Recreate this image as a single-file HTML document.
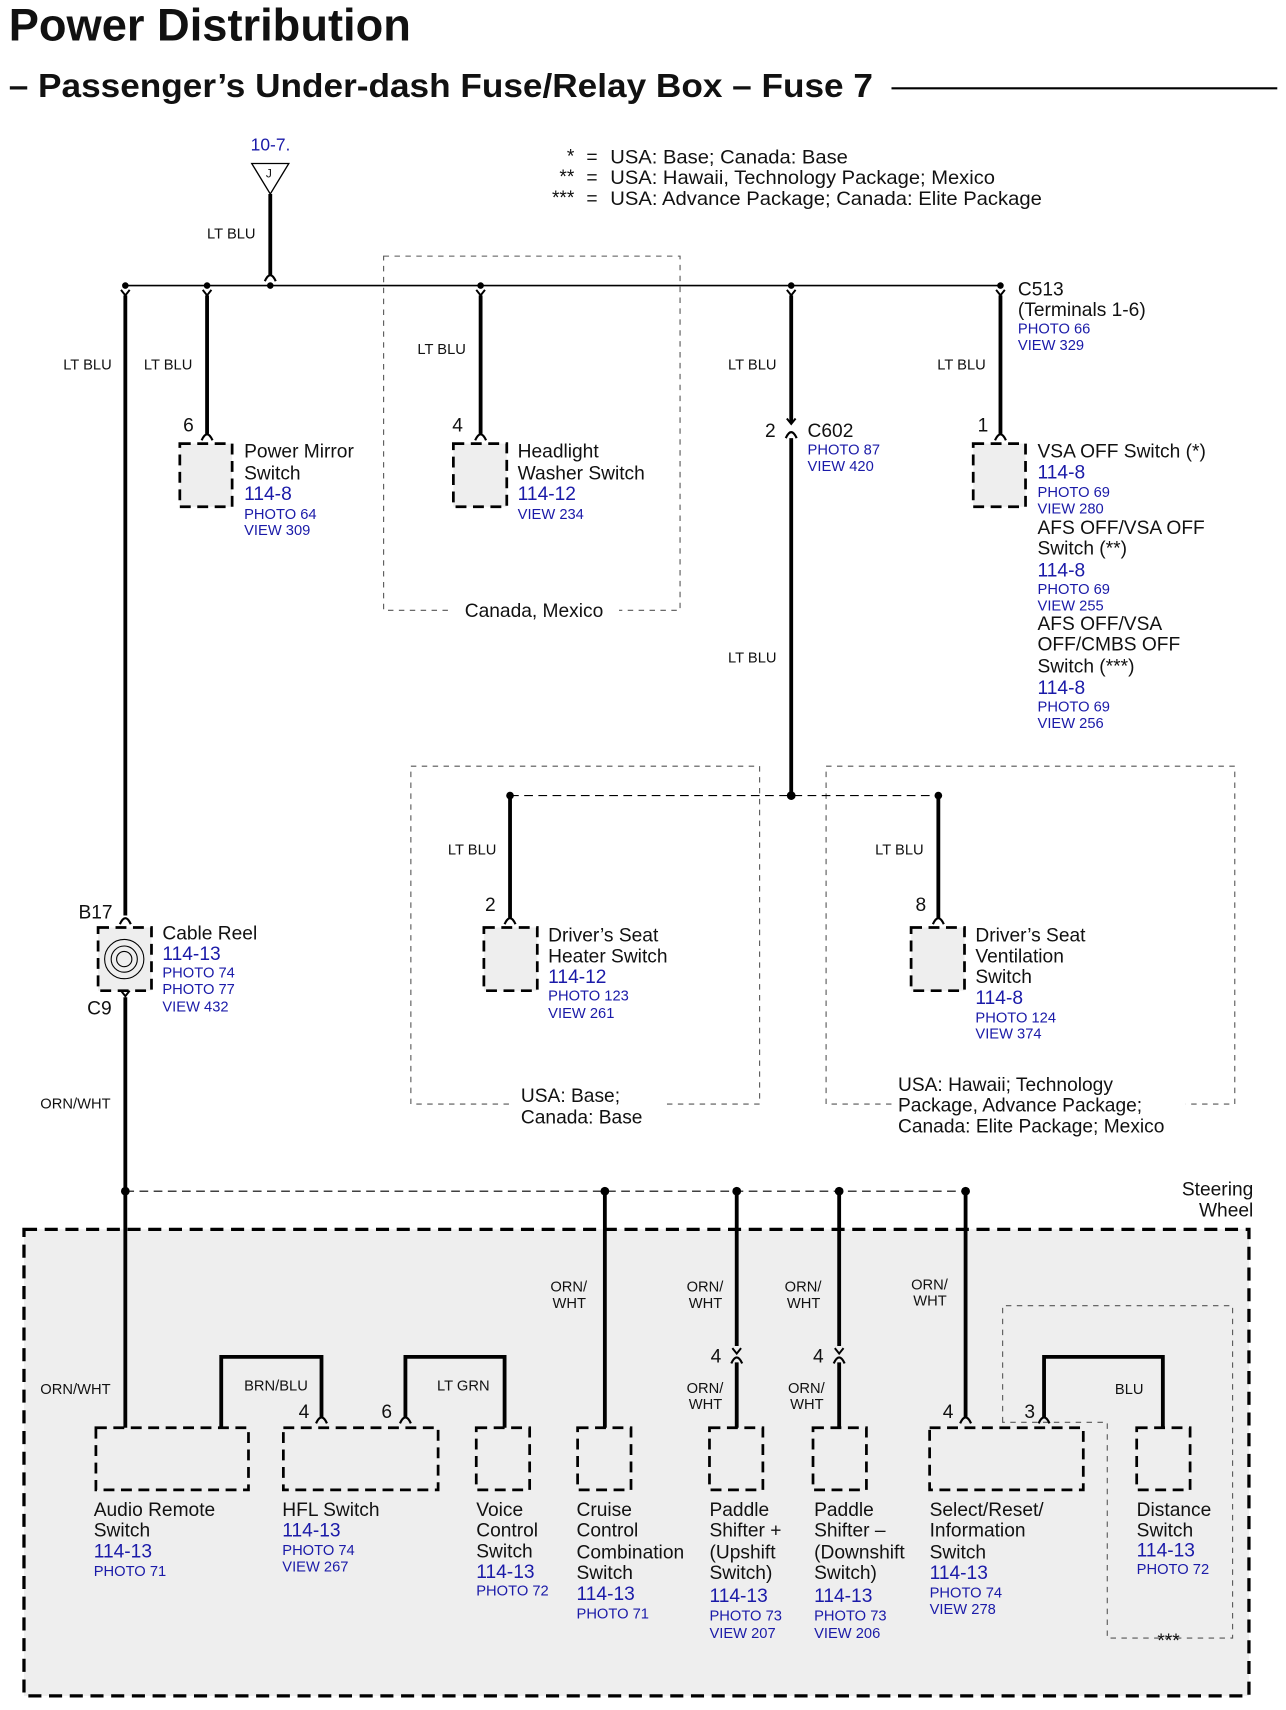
<!DOCTYPE html>
<html><head><meta charset="utf-8"><style>
html,body{margin:0;padding:0;background:#fff}
svg{display:block}
text{font-family:"Liberation Sans",sans-serif;fill:#111}
.b{fill:#1a1aa8}
.s{font-size:13.5px}
.m{font-size:17.6px}
.w{font-size:13.5px}
</style></head><body>
<svg width="1286" height="1710" viewBox="0 0 1180 1569" preserveAspectRatio="none" xmlns="http://www.w3.org/2000/svg">
<defs>
<g id="y"><path d="M-4,4 L0,9 L4,4" fill="none" stroke="#000" stroke-width="1.8"/></g>
<g id="a"><path d="M-5,6 Q0,-5 5,6" fill="none" stroke="#000" stroke-width="2"/></g>
</defs>
<text x="8" y="37" style="font-size:42px;font-weight:bold" textLength="369" lengthAdjust="spacingAndGlyphs">Power Distribution</text>
<text x="8" y="89" style="font-size:31px;font-weight:bold" textLength="793" lengthAdjust="spacingAndGlyphs">– Passenger’s Under-dash Fuse/Relay Box – Fuse 7</text>
<line x1="818" y1="81" x2="1172" y2="81" stroke="#000" stroke-width="2"/>

<text x="230" y="138" class="b" style="font-size:16px">10-7.</text>
<path d="M231,150 L265,150 L248,178 Z" fill="#fff" stroke="#000" stroke-width="1.2"/>
<text x="244" y="163" style="font-size:11px">J</text>
<line x1="248" y1="178" x2="248" y2="252" stroke="#000" stroke-width="3.5"/>
<use href="#a" x="248" y="252"/>
<text x="190" y="219" class="s">LT BLU</text>

<text x="527" y="149" text-anchor="end" class="m">*</text><text x="538" y="150" class="m">=</text><text x="560" y="150" class="m" textLength="218" lengthAdjust="spacingAndGlyphs">USA: Base; Canada: Base</text>
<text x="527" y="168" text-anchor="end" class="m">**</text><text x="538" y="169" class="m">=</text><text x="560" y="169" class="m" textLength="353" lengthAdjust="spacingAndGlyphs">USA: Hawaii, Technology Package; Mexico</text>
<text x="527" y="187" text-anchor="end" class="m">***</text><text x="538" y="188" class="m">=</text><text x="560" y="188" class="m" textLength="396" lengthAdjust="spacingAndGlyphs">USA: Advance Package; Canada: Elite Package</text>

<line x1="115" y1="262" x2="918" y2="262" stroke="#000" stroke-width="1.5"/>
<g fill="#000">
<circle cx="115" cy="262" r="3"/><circle cx="190" cy="262" r="3"/><circle cx="248" cy="262" r="3"/>
<circle cx="441" cy="262" r="3"/><circle cx="726" cy="262" r="3"/><circle cx="918" cy="262" r="3"/>
</g>
<use href="#y" x="115" y="262"/><use href="#y" x="190" y="262"/><use href="#y" x="441" y="262"/><use href="#y" x="726" y="262"/><use href="#y" x="918" y="262"/>
<g stroke="#000" stroke-width="3.5">
<line x1="115" y1="271" x2="115" y2="840"/>
<line x1="190" y1="271" x2="190" y2="398"/>
<line x1="441" y1="271" x2="441" y2="398"/>
<line x1="726" y1="271" x2="726" y2="388"/>
<line x1="726" y1="402" x2="726" y2="730"/>
<line x1="918" y1="271" x2="918" y2="398"/>
</g>
<use href="#a" x="190" y="398"/><use href="#a" x="441" y="398"/><use href="#a" x="918" y="398"/>
<use href="#y" x="726" y="380"/><use href="#a" x="726" y="396"/>

<rect x="352" y="235" width="272" height="325" fill="none" stroke="#555" stroke-width="1" stroke-dasharray="5,5"/>
<rect x="412" y="548" width="156" height="20" fill="#fff"/>
<text x="490" y="566" text-anchor="middle" class="m">Canada, Mexico</text>

<g fill="#eee" stroke="#000" stroke-width="2.5" stroke-dasharray="10,6">
<rect x="165" y="407" width="48" height="58"/>
<rect x="416" y="407" width="49" height="58"/>
<rect x="893" y="407" width="48" height="58"/>
<rect x="444" y="851" width="49" height="58"/>
<rect x="836" y="851" width="49" height="58"/>
<rect x="90" y="851" width="49" height="58"/>
</g>

<text x="58" y="339" class="s">LT BLU</text>
<text x="132" y="339" class="s">LT BLU</text>
<text x="383" y="325" class="s">LT BLU</text>
<text x="668" y="339" class="s">LT BLU</text>
<text x="860" y="339" class="s">LT BLU</text>
<text x="668" y="608" class="s">LT BLU</text>

<text x="168" y="396" class="m">6</text>
<text x="224" y="420" class="m">Power Mirror</text><text x="224" y="440" class="m">Switch</text>
<text x="224" y="459" class="m b">114-8</text><text x="224" y="476" class="w b">PHOTO 64</text><text x="224" y="491" class="w b">VIEW 309</text>

<text x="415" y="396" class="m">4</text>
<text x="475" y="420" class="m">Headlight</text><text x="475" y="440" class="m">Washer Switch</text>
<text x="475" y="459" class="m b">114-12</text><text x="475" y="476" class="w b">VIEW 234</text>

<text x="702" y="401" class="m">2</text>
<text x="741" y="401" class="m">C602</text><text x="741" y="417" class="w b">PHOTO 87</text><text x="741" y="432" class="w b">VIEW 420</text>

<text x="934" y="271" class="m">C513</text><text x="934" y="290" class="m">(Terminals 1-6)</text>
<text x="934" y="306" class="w b">PHOTO 66</text><text x="934" y="321" class="w b">VIEW 329</text>
<text x="897" y="396" class="m">1</text>
<text x="952" y="420" class="m">VSA OFF Switch (*)</text>
<text x="952" y="439" class="m b">114-8</text><text x="952" y="456" class="w b">PHOTO 69</text><text x="952" y="471" class="w b">VIEW 280</text>
<text x="952" y="490" class="m">AFS OFF/VSA OFF</text><text x="952" y="509" class="m">Switch (**)</text>
<text x="952" y="529" class="m b">114-8</text><text x="952" y="545" class="w b">PHOTO 69</text><text x="952" y="560" class="w b">VIEW 255</text>
<text x="952" y="578" class="m">AFS OFF/VSA</text><text x="952" y="597" class="m">OFF/CMBS OFF</text><text x="952" y="617" class="m">Switch (***)</text>
<text x="952" y="637" class="m b">114-8</text><text x="952" y="653" class="w b">PHOTO 69</text><text x="952" y="668" class="w b">VIEW 256</text>

<rect x="377" y="703" width="320" height="310" fill="none" stroke="#555" stroke-width="1" stroke-dasharray="5,5"/>
<rect x="758" y="703" width="375" height="310" fill="none" stroke="#555" stroke-width="1" stroke-dasharray="5,5"/>
<line x1="468" y1="730" x2="861" y2="730" stroke="#000" stroke-width="1" stroke-dasharray="8,5"/>
<g fill="#000"><circle cx="726" cy="730" r="4"/><circle cx="468" cy="730" r="3.5"/><circle cx="861" cy="730" r="3.5"/></g>
<g stroke="#000" stroke-width="3.5"><line x1="468" y1="730" x2="468" y2="842"/><line x1="861" y1="730" x2="861" y2="842"/></g>
<use href="#a" x="468" y="842"/><use href="#a" x="861" y="842"/>
<text x="411" y="784" class="s">LT BLU</text><text x="803" y="784" class="s">LT BLU</text>
<text x="445" y="836" class="m">2</text><text x="840" y="836" class="m">8</text>
<text x="503" y="864" class="m">Driver’s Seat</text><text x="503" y="883" class="m">Heater Switch</text>
<text x="503" y="902" class="m b">114-12</text><text x="503" y="918" class="w b">PHOTO 123</text><text x="503" y="934" class="w b">VIEW 261</text>
<rect x="470" y="995" width="140" height="40" fill="#fff"/>
<text x="478" y="1011" class="m">USA: Base;</text><text x="478" y="1031" class="m">Canada: Base</text>
<text x="895" y="864" class="m">Driver’s Seat</text><text x="895" y="883" class="m">Ventilation</text><text x="895" y="902" class="m">Switch</text>
<text x="895" y="921" class="m b">114-8</text><text x="895" y="938" class="w b">PHOTO 124</text><text x="895" y="953" class="w b">VIEW 374</text>
<rect x="818" y="985" width="270" height="58" fill="#fff"/>
<text x="824" y="1001" class="m">USA: Hawaii; Technology</text><text x="824" y="1020" class="m">Package, Advance Package;</text><text x="824" y="1039" class="m">Canada: Elite Package; Mexico</text>

<use href="#a" x="115" y="842"/>
<text x="72" y="843" class="m">B17</text>
<circle cx="114" cy="880" r="18" fill="none" stroke="#000" stroke-width="1"/>
<circle cx="114" cy="880" r="12" fill="none" stroke="#000" stroke-width="1"/>
<circle cx="114" cy="880" r="7" fill="none" stroke="#000" stroke-width="1"/>
<use href="#y" x="115" y="905"/>
<text x="80" y="931" class="m">C9</text>
<text x="149" y="862" class="m">Cable Reel</text><text x="149" y="881" class="m b">114-13</text>
<text x="149" y="897" class="w b">PHOTO 74</text><text x="149" y="912" class="w b">PHOTO 77</text><text x="149" y="928" class="w b">VIEW 432</text>
<line x1="115" y1="915" x2="115" y2="1093" stroke="#000" stroke-width="3.5"/>
<text x="37" y="1017" class="s">ORN/WHT</text>

<rect x="22" y="1128" width="1124" height="428" fill="#eee" stroke="#000" stroke-width="3" stroke-dasharray="12,7"/>
<line x1="115" y1="1093" x2="886" y2="1093" stroke="#000" stroke-width="1" stroke-dasharray="8,5"/>
<g fill="#000"><circle cx="115" cy="1093" r="4"/><circle cx="555" cy="1093" r="4"/><circle cx="676" cy="1093" r="4"/><circle cx="770" cy="1093" r="4"/><circle cx="886" cy="1093" r="4"/></g>
<text x="1150" y="1097" text-anchor="end" class="m">Steering</text><text x="1150" y="1116" text-anchor="end" class="m">Wheel</text>

<path d="M920,1305 L920,1198 L1131,1198 L1131,1503 L1016,1503 L1016,1305 Z" fill="none" stroke="#555" stroke-width="1" stroke-dasharray="5,5"/>
<text x="1062" y="1511" class="m">***</text>

<g stroke="#000" stroke-width="3.5" fill="none">
<line x1="115" y1="1093" x2="115" y2="1310"/>
<path d="M203,1310 L203,1245 L295,1245 L295,1300"/>
<path d="M372,1300 L372,1245 L463,1245 L463,1310"/>
<line x1="555" y1="1093" x2="555" y2="1310"/>
<line x1="676" y1="1093" x2="676" y2="1235"/><line x1="676" y1="1250" x2="676" y2="1310"/>
<line x1="770" y1="1093" x2="770" y2="1235"/><line x1="770" y1="1250" x2="770" y2="1310"/>
<line x1="886" y1="1093" x2="886" y2="1300"/>
<path d="M958,1300 L958,1245 L1067,1245 L1067,1310"/>
</g>
<use href="#a" x="295" y="1300"/><use href="#a" x="372" y="1300"/><use href="#a" x="886" y="1300"/><use href="#a" x="958" y="1300"/>
<use href="#y" x="676" y="1233"/><use href="#a" x="676" y="1245"/>
<use href="#y" x="770" y="1233"/><use href="#a" x="770" y="1245"/>

<g fill="none" stroke="#000" stroke-width="2.5" stroke-dasharray="10,6">
<rect x="88" y="1310" width="140" height="57"/>
<rect x="260" y="1310" width="142" height="57"/>
<rect x="437" y="1310" width="49" height="57"/>
<rect x="530" y="1310" width="49" height="57"/>
<rect x="651" y="1310" width="49" height="57"/>
<rect x="746" y="1310" width="49" height="57"/>
<rect x="853" y="1310" width="141" height="57"/>
<rect x="1043" y="1310" width="49" height="57"/>
</g>

<text x="37" y="1279" class="s">ORN/WHT</text>
<text x="224" y="1276" class="s">BRN/BLU</text><text x="274" y="1301" class="m">4</text>
<text x="350" y="1301" class="m">6</text><text x="401" y="1276" class="s">LT GRN</text>
<text x="505" y="1185" class="s">ORN/</text><text x="507" y="1200" class="s">WHT</text>
<text x="630" y="1185" class="s">ORN/</text><text x="632" y="1200" class="s">WHT</text>
<text x="630" y="1278" class="s">ORN/</text><text x="632" y="1293" class="s">WHT</text>
<text x="652" y="1250" class="m">4</text>
<text x="720" y="1185" class="s">ORN/</text><text x="722" y="1200" class="s">WHT</text>
<text x="723" y="1278" class="s">ORN/</text><text x="725" y="1293" class="s">WHT</text>
<text x="746" y="1250" class="m">4</text>
<text x="836" y="1183" class="s">ORN/</text><text x="838" y="1198" class="s">WHT</text>
<text x="865" y="1301" class="m">4</text>
<text x="940" y="1301" class="m">3</text>
<text x="1023" y="1279" class="s">BLU</text>

<text x="86" y="1391" class="m">Audio Remote</text><text x="86" y="1410" class="m">Switch</text>
<text x="86" y="1429" class="m b">114-13</text><text x="86" y="1446" class="w b">PHOTO 71</text>

<text x="259" y="1391" class="m">HFL Switch</text><text x="259" y="1410" class="m b">114-13</text>
<text x="259" y="1427" class="w b">PHOTO 74</text><text x="259" y="1442" class="w b">VIEW 267</text>

<text x="437" y="1391" class="m">Voice</text><text x="437" y="1410" class="m">Control</text><text x="437" y="1429" class="m">Switch</text>
<text x="437" y="1448" class="m b">114-13</text><text x="437" y="1464" class="w b">PHOTO 72</text>

<text x="529" y="1391" class="m">Cruise</text><text x="529" y="1410" class="m">Control</text><text x="529" y="1430" class="m">Combination</text><text x="529" y="1449" class="m">Switch</text>
<text x="529" y="1468" class="m b">114-13</text><text x="529" y="1485" class="w b">PHOTO 71</text>

<text x="651" y="1391" class="m">Paddle</text><text x="651" y="1410" class="m">Shifter +</text><text x="651" y="1430" class="m">(Upshift</text><text x="651" y="1449" class="m">Switch)</text>
<text x="651" y="1470" class="m b">114-13</text><text x="651" y="1487" class="w b">PHOTO 73</text><text x="651" y="1503" class="w b">VIEW 207</text>

<text x="747" y="1391" class="m">Paddle</text><text x="747" y="1410" class="m">Shifter –</text><text x="747" y="1430" class="m">(Downshift</text><text x="747" y="1449" class="m">Switch)</text>
<text x="747" y="1470" class="m b">114-13</text><text x="747" y="1487" class="w b">PHOTO 73</text><text x="747" y="1503" class="w b">VIEW 206</text>

<text x="853" y="1391" class="m">Select/Reset/</text><text x="853" y="1410" class="m">Information</text><text x="853" y="1430" class="m">Switch</text>
<text x="853" y="1449" class="m b">114-13</text><text x="853" y="1466" class="w b">PHOTO 74</text><text x="853" y="1481" class="w b">VIEW 278</text>

<text x="1043" y="1391" class="m">Distance</text><text x="1043" y="1410" class="m">Switch</text>
<text x="1043" y="1428" class="m b">114-13</text><text x="1043" y="1444" class="w b">PHOTO 72</text>
</svg>
</body></html>
